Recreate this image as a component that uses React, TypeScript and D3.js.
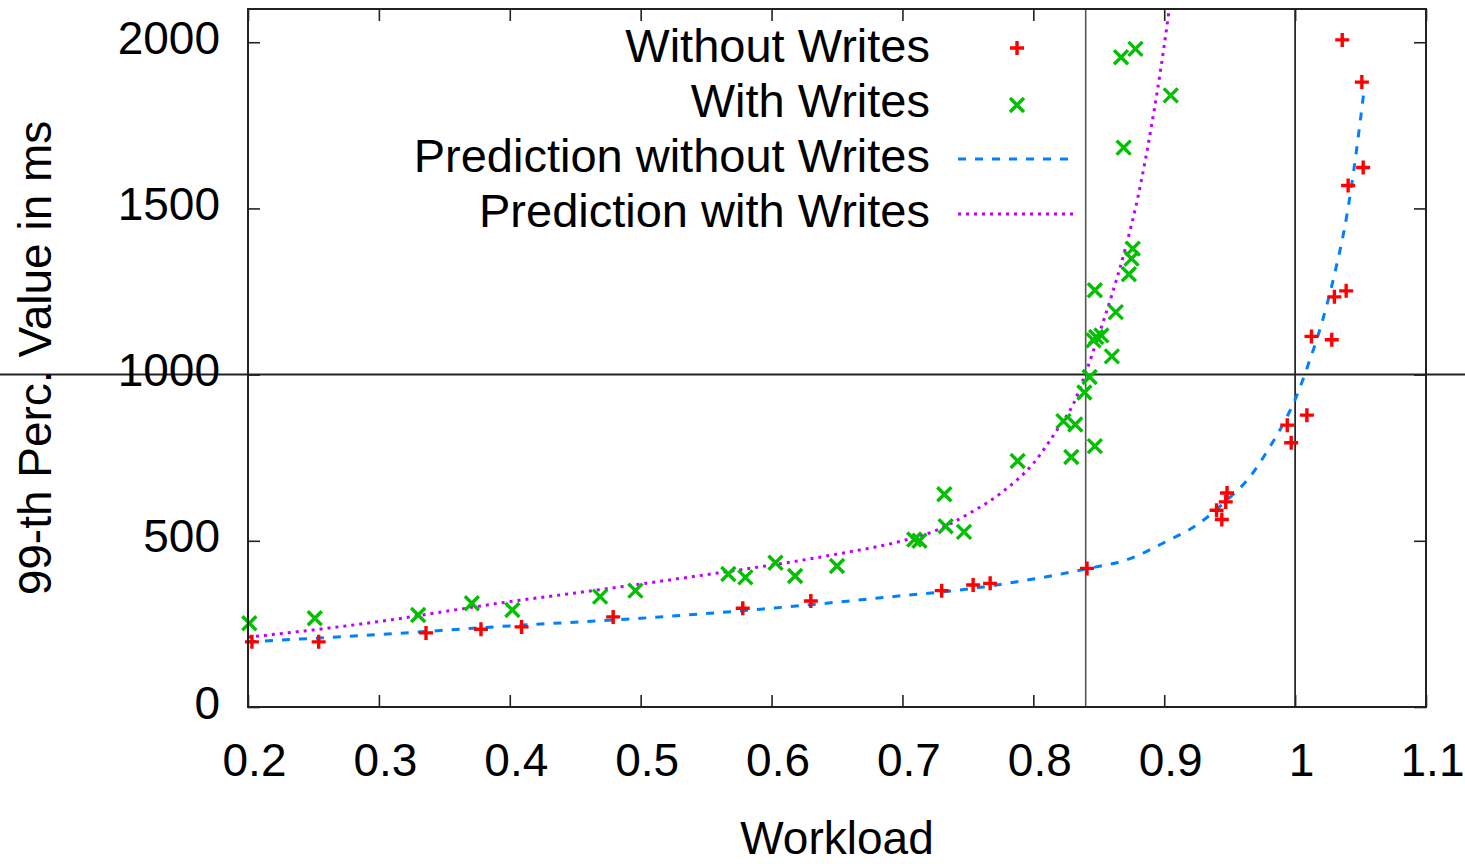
import React, { useEffect, useRef } from 'react';
import * as d3 from 'd3';

// measured points: Without Writes (red +)
const noWriteLoad = [0.203, 0.254, 0.336, 0.378, 0.409, 0.479, 0.578, 0.630, 0.730, 0.754, 0.767, 0.841,
  0.940, 0.944, 0.948, 0.947, 0.994, 0.997, 1.009, 1.0125, 1.028, 1.030, 1.039, 1.0405, 1.051, 1.052, 1.036];
const noWriteLatency = [196, 196, 223, 234, 241, 271, 297, 319, 350, 367, 372, 417,
  592, 564, 644, 617, 848, 795, 878, 1115, 1105, 1234, 1252, 1569, 1880, 1623, 2007];

// measured points: With Writes (green x)
const writeLoad = [0.201, 0.251, 0.330, 0.371, 0.402, 0.469, 0.496, 0.567, 0.580, 0.603, 0.618, 0.650,
  0.709, 0.713, 0.732, 0.733, 0.747, 0.788, 0.823, 0.832, 0.829, 0.847, 0.839, 0.843,
  0.847, 0.863, 0.848, 0.852, 0.846, 0.860, 0.873, 0.875, 0.876, 0.869, 0.867, 0.878, 0.905];
const writeLatency = [252, 267, 277, 312, 292, 332, 350, 400, 390, 434, 394, 424,
  504, 500, 640, 544, 527, 740, 860, 850, 752, 785, 946, 993,
  1254, 1188, 1113, 1118, 1103, 1055, 1302, 1349, 1379, 1683, 1955, 1980, 1840];

// prediction curves
const predNoWriteLoad = [0.2, 0.3, 0.4, 0.5, 0.6, 0.7, 0.75, 0.8, 0.84, 0.875, 0.9, 0.925, 0.95, 0.965,
  0.98, 0.99, 1.0, 1.01, 1.02, 1.03, 1.04, 1.045, 1.05, 1.0525];
const predNoWriteLatency = [196, 218, 244, 267, 297, 335, 355, 385, 415, 448, 495, 548, 630, 690,
  778, 845, 925, 1030, 1150, 1300, 1490, 1620, 1770, 1850];

const predWriteLoad = [0.2, 0.25, 0.3, 0.35, 0.4, 0.45, 0.5, 0.55, 0.6, 0.65, 0.7, 0.725, 0.75, 0.775,
  0.8, 0.82, 0.83, 0.84, 0.85, 0.86, 0.87, 0.88, 0.89, 0.9, 0.9035];
const predWriteLatency = [210, 232, 257, 287, 317, 343, 370, 398, 427, 460, 500, 530, 580, 643,
  733, 845, 907, 1005, 1120, 1240, 1375, 1536, 1742, 1990, 2090];

const xTicks = [0.2, 0.3, 0.4, 0.5, 0.6, 0.7, 0.8, 0.9, 1, 1.1];
const yTicks = [0, 500, 1000, 1500, 2000];
const refLoads = [0.84, 1.0];
const refLatency = 1000;

const legendLabels = ['Without Writes', 'With Writes', 'Prediction without Writes', 'Prediction with Writes'];

const W = 1465;
const H = 864;
const margin = { left: 248, right: 39, top: 9, bottom: 157 };
const FONT = '"Liberation Sans", Arial, Helvetica, sans-serif';
const RED = '#ff0000';
const GREEN = '#00c000';
const BLUE = '#0080ff';
const PURPLE = '#c000ff';

const App = () => {
  const svgRef = useRef<SVGSVGElement>(null);

  useEffect(() => {
    const svg = d3.select(svgRef.current);
    svg.selectAll('*').remove();

    const xScale = d3.scaleLinear().domain([0.2, 1.1]).range([margin.left, W - margin.right]);
    const yScale = d3.scaleLinear().domain([0, 2100]).range([H - margin.bottom, margin.top]);
    const x0 = xScale.range()[0], x1 = xScale.range()[1];
    const y0 = yScale.range()[0], y1 = yScale.range()[1];

    svg.append('defs').append('clipPath').attr('id', 'plotclip')
      .append('rect').attr('x', x0).attr('y', y1).attr('width', x1 - x0).attr('height', y0 - y1);

    // reference lines
    svg.selectAll('.vref').data(refLoads).join('line')
      .attr('class', 'vref')
      .attr('x1', d => xScale(d)).attr('x2', d => xScale(d))
      .attr('y1', y1).attr('y2', y0)
      .attr('stroke', (d, i) => (i === 0 ? '#555' : '#111'))
      .attr('stroke-width', 1.6);
    svg.append('line')
      .attr('x1', 0).attr('x2', W)
      .attr('y1', yScale(refLatency)).attr('y2', yScale(refLatency))
      .attr('stroke', '#222').attr('stroke-width', 2);

    // axes (inward ticks, gnuplot style)
    const styleAxis = (g: any) => {
      g.select('.domain').remove();
      g.selectAll('.tick line').attr('stroke', '#222').attr('stroke-width', 1.6);
      g.selectAll('.tick text').attr('font-family', FONT).attr('font-size', 46).attr('fill', '#000');
    };
    svg.append('g').attr('transform', `translate(0,${y0})`)
      .call(d3.axisBottom(xScale).tickValues(xTicks).tickSize(-12).tickPadding(36).tickFormat(d3.format('')))
      .call(styleAxis)
      .selectAll('.tick text').attr('dx', 6);
    svg.append('g').attr('transform', `translate(0,${y1})`)
      .call(d3.axisTop(xScale).tickValues(xTicks).tickSize(-12).tickFormat(() => ''))
      .call(styleAxis);
    svg.append('g').attr('transform', `translate(${x0},0)`)
      .call(d3.axisLeft(yScale).tickValues(yTicks).tickSize(-12).tickPadding(28).tickFormat(d3.format('d')))
      .call(styleAxis)
      .selectAll('.tick text').attr('dy', '0.24em');
    svg.append('g').attr('transform', `translate(${x1},0)`)
      .call(d3.axisRight(yScale).tickValues(yTicks).tickSize(-12).tickFormat(() => ''))
      .call(styleAxis);

    // prediction curves
    const line = d3.line<[number, number]>()
      .x(d => xScale(d[0])).y(d => yScale(d[1]))
      .curve(d3.curveMonotoneX);
    const plot = svg.append('g').attr('clip-path', 'url(#plotclip)');
    plot.append('path')
      .datum(predNoWriteLoad.map((v, i) => [v, predNoWriteLatency[i]] as [number, number]))
      .attr('d', line).attr('fill', 'none')
      .attr('stroke', BLUE).attr('stroke-width', 3).attr('stroke-dasharray', '8 9');
    plot.append('path')
      .datum(predWriteLoad.map((v, i) => [v, predWriteLatency[i]] as [number, number]))
      .attr('d', line).attr('fill', 'none')
      .attr('stroke', PURPLE).attr('stroke-width', 3).attr('stroke-dasharray', '3 5');

    // markers
    const s = 7;
    const plusPath = (cx: number, cy: number) => `M${cx - s},${cy}H${cx + s}M${cx},${cy - s}V${cy + s}`;
    const crossPath = (cx: number, cy: number) =>
      `M${cx - s},${cy - s}L${cx + s},${cy + s}M${cx - s},${cy + s}L${cx + s},${cy - s}`;

    svg.append('g').selectAll('path')
      .data(noWriteLoad.map((v, i) => [v, noWriteLatency[i]]))
      .join('path')
      .attr('d', d => plusPath(xScale(d[0]), yScale(d[1])))
      .attr('stroke', RED).attr('stroke-width', 3.4).attr('fill', 'none');
    svg.append('g').selectAll('path')
      .data(writeLoad.map((v, i) => [v, writeLatency[i]]))
      .join('path')
      .attr('d', d => crossPath(xScale(d[0]), yScale(d[1])))
      .attr('stroke', GREEN).attr('stroke-width', 3.4).attr('fill', 'none');

    // border
    svg.append('rect')
      .attr('x', x0).attr('y', y1).attr('width', x1 - x0).attr('height', y0 - y1)
      .attr('fill', 'none').attr('stroke', '#222').attr('stroke-width', 2);

    // axis titles
    svg.append('text')
      .attr('x', (x0 + x1) / 2).attr('y', 854)
      .attr('text-anchor', 'middle').attr('font-family', FONT).attr('font-size', 46)
      .text('Workload');
    svg.append('text')
      .attr('transform', `translate(51,${(y0 + y1) / 2}) rotate(-90)`)
      .attr('text-anchor', 'middle').attr('font-family', FONT).attr('font-size', 46)
      .text('99-th Perc. Value in ms');

    // legend
    const legend = svg.append('g');
    const rowY = (i: number) => 62 + i * 55;
    legend.selectAll('text').data(legendLabels).join('text')
      .attr('x', 930).attr('y', (d, i) => rowY(i))
      .attr('text-anchor', 'end').attr('font-family', FONT).attr('font-size', 47)
      .text(d => d);
    legend.append('path').attr('d', plusPath(1017, rowY(0) - 14))
      .attr('stroke', RED).attr('stroke-width', 3.4);
    legend.append('path').attr('d', crossPath(1017, rowY(1) - 12))
      .attr('stroke', GREEN).attr('stroke-width', 3.4);
    legend.append('line').attr('x1', 958).attr('x2', 1072).attr('y1', rowY(2) - 13).attr('y2', rowY(2) - 13)
      .attr('stroke', BLUE).attr('stroke-width', 3).attr('stroke-dasharray', '8 9');
    legend.append('line').attr('x1', 958).attr('x2', 1075).attr('y1', rowY(3) - 13).attr('y2', rowY(3) - 13)
      .attr('stroke', PURPLE).attr('stroke-width', 3).attr('stroke-dasharray', '3 5');
  }, []);

  return (
    <svg ref={svgRef} width={W} height={H}
      style={{ position: 'absolute', left: 0, top: 0, background: '#fff' }} />
  );
};

export default App;
